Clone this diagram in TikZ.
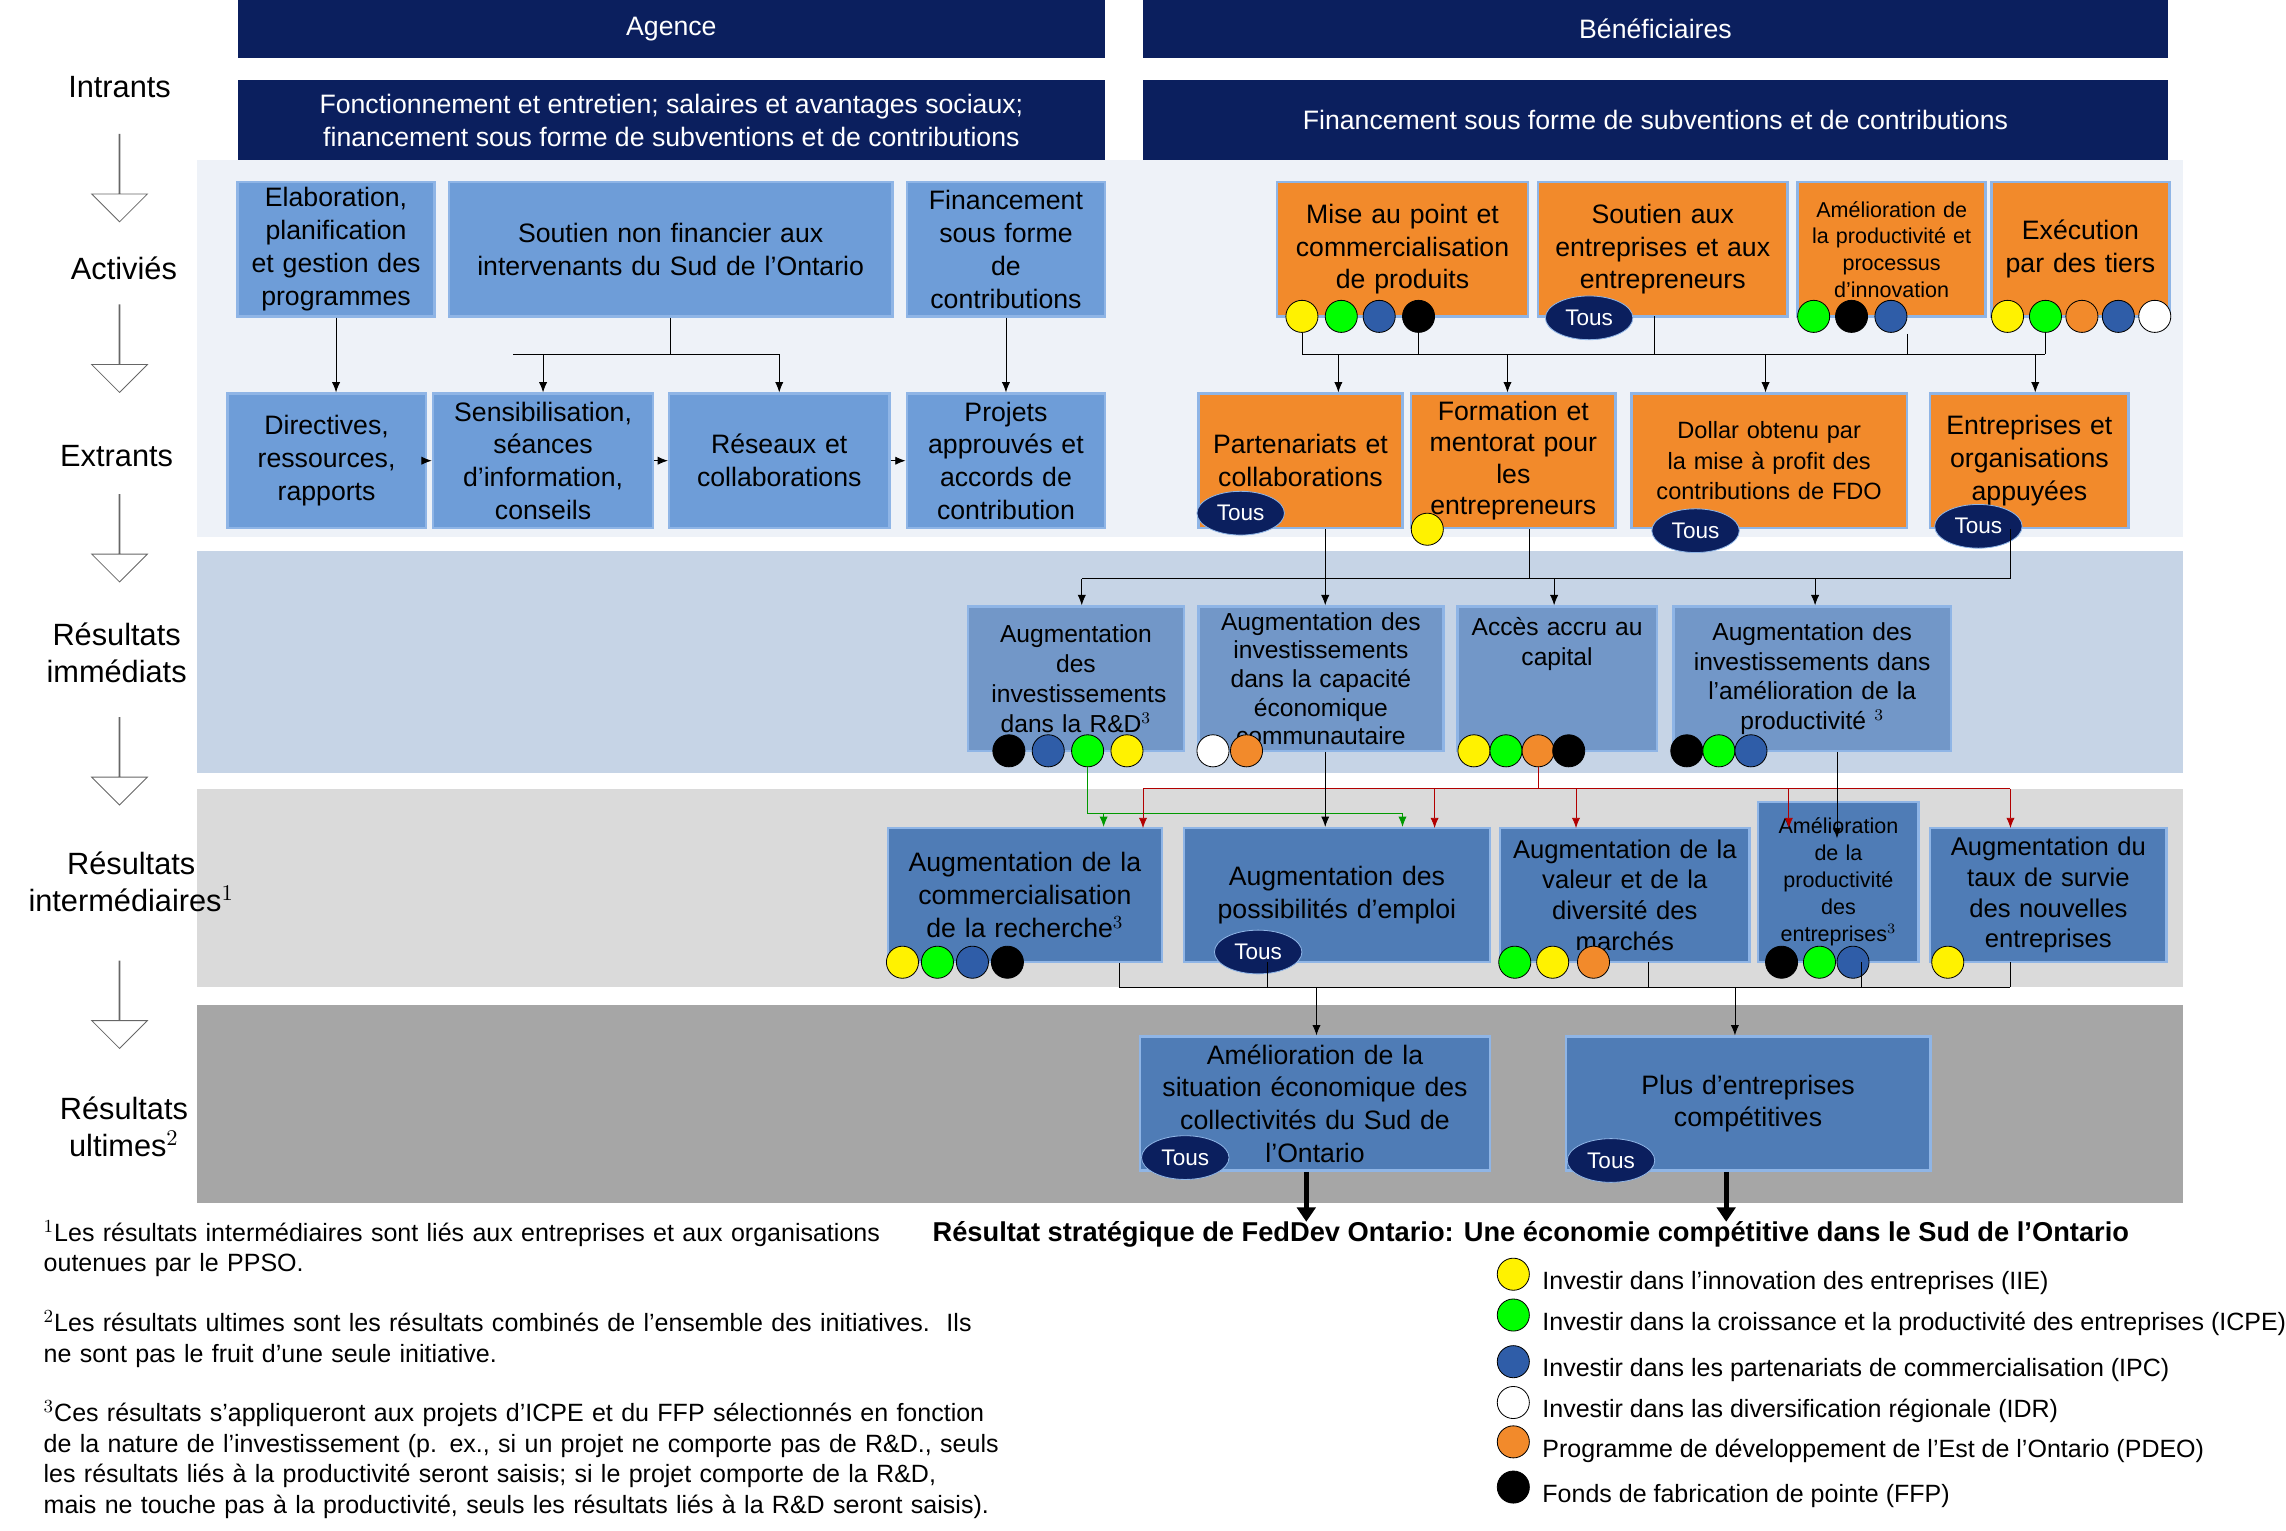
\documentclass[tikz,border=0pt]{standalone}
\usepackage{fontspec}
\setmainfont{Liberation Sans}
\usetikzlibrary{arrows.meta,shapes.geometric,shapes.arrows,positioning}
\definecolor{navy}{HTML}{0B1F5E}
\definecolor{actblue}{HTML}{6E9DD8}
\definecolor{frame}{HTML}{8FB5E6}
\definecolor{orng}{HTML}{F28A2B}
\definecolor{immblue}{HTML}{7297C8}
\definecolor{intblue}{HTML}{4F7CB6}
\definecolor{dblue}{HTML}{2F5DA8}
\definecolor{band1}{HTML}{EEF2F8}
\definecolor{band2}{HTML}{C6D4E6}
\definecolor{band3}{HTML}{DADADA}
\definecolor{band4}{HTML}{A6A6A6}
\hyphenpenalty=10000
\exhyphenpenalty=10000
\begin{document}
\begin{tikzpicture}
  [ x=0.025cm, y=-0.025cm
  , box/.style={draw=frame, line width=1.2pt, shape=rectangle, align=center, inner sep=1pt,
                font=\fontsize{13}{16}\selectfont}
  , act/.style={box, fill=actblue}
  , org/.style={box, fill=orng}
  , imm/.style={box, fill=immblue, font=\fontsize{12}{14.5}\selectfont}
  , inter/.style={box, fill=intblue, font=\fontsize{12.5}{15}\selectfont}
  , head/.style={shape=rectangle, fill=navy, text=white, align=center,
                 font=\fontsize{13}{16}\selectfont}
  , tous/.style={ellipse, fill=navy, draw=frame, text=white, inner sep=0pt,
                 minimum width=1.5cm, minimum height=0.75cm, font=\fontsize{11}{12}\selectfont}
  , dot/.style={circle, draw=black, fill=#1, minimum size=0.55cm, inner sep=0pt}
  , lbl/.style={align=center, font=\fontsize{15}{18}\selectfont}
  , hollow/.style={single arrow, draw=black!60, fill=white, shape border rotate=270,
                   minimum height=1.5cm, minimum width=0.4cm, single arrow head extend=0.47cm,
                   inner sep=0pt}
  , tip/.style={-{Latex[length=5pt,width=4pt]}}
  ]
  \useasboundingbox (0,0) rectangle (1568,1050);

  % bands
  \fill[band1] (135,110) rectangle (1497,368);
  \fill[band2] (135,378) rectangle (1497,530);
  \fill[band3] (135,541) rectangle (1497,677);
  \fill[band4] (135,689) rectangle (1497,825);

  % left labels
  \node[lbl] (intr) at (82,60)  {Intrants};
  \node[lbl] (acti) at (85,184) {Activiés};
  \node[lbl] (extr) at (80,313) {Extrants};
  \node[lbl] (rimm) at (80,448) {Résultats\\immédiats};
  \node[lbl] (rint) at (90,605) {Résultats\\intermédiaires$^{1}$};
  \node[lbl] (rult) at (85,773) {Résultats\\ultimes$^{2}$};
  \foreach \y [count=\i] in {122,239,369,522,689}
    \node[hollow] (ar\i) at (82,\y) {};

  % headers
  \node[head, minimum width=14.875cm, minimum height=1cm]   (agence) at (460.5,20) {Agence};
  \node[head, minimum width=17.575cm, minimum height=1cm]   (benef)  at (1135.5,20) {Bénéficiaires};
  \node[head, minimum width=14.875cm, minimum height=1.375cm] (inag) at (460.5,82.5)
    {Fonctionnement et entretien; salaires et avantages sociaux;\\financement sous forme de subventions et de contributions};
  \node[head, minimum width=17.575cm, minimum height=1.375cm] (inbe) at (1135.5,82.5)
    {Financement sous forme de subventions et de contributions};

  % agency activities and outputs
  \node[act, minimum width=3.375cm, minimum height=2.3cm, text width=3.2cm] (elab) at (230.5,171)
    {Elaboration, planification et gestion des programmes};
  \node[act, minimum width=7.6cm, minimum height=2.3cm, text width=7.2cm] (sout) at (460,171)
    {Soutien non financier aux\\intervenants du Sud de l’Ontario};
  \node[act, minimum width=3.4cm, minimum height=2.3cm, text width=3.2cm] (fina) at (690,171)
    {Financement\\sous forme\\de\\contributions};
  \node[act, minimum width=3.4cm, minimum height=2.3cm, text width=3.2cm] (dire) at (224,316)
    {Directives, ressources, rapports};
  \node[act, minimum width=3.775cm, minimum height=2.3cm, text width=3.6cm] (sens) at (372.5,316)
    {Sensibilisation, séances d’information, conseils};
  \node[act, minimum width=3.775cm, minimum height=2.3cm, text width=3.6cm] (rese) at (534.5,316)
    {Réseaux et collaborations};
  \node[act, minimum width=3.4cm, minimum height=2.3cm, text width=3.2cm] (proj) at (690,316)
    {Projets approuvés et accords de contribution};

  \draw[tip] (elab.south) -- (elab.south |- dire.north);
  \draw (sout.south) -- (460,243) coordinate (sbus);
  \draw[tip] (352,243) -| (sens.north);
  \draw[tip] (sbus) -| (rese.north);
  \draw (sbus) -- (352,243);
  \draw[tip] (fina.south) -- (fina.south |- proj.north);
  \draw[tip] (dire.east) -- (sens.west);
  \draw[tip] (sens.east) -- (rese.west);
  \draw[tip] (rese.east) -- (proj.west);

  % beneficiary activities
  \node[org, minimum width=4.3cm, minimum height=2.3cm, text width=4cm] (mise) at (962,171)
    {Mise au point et commercialisation de produits};
  \node[org, minimum width=4.275cm, minimum height=2.3cm, text width=4cm] (soen) at (1140.5,171)
    {Soutien aux entreprises et aux entrepreneurs};
  \node[org, minimum width=3.225cm, minimum height=2.3cm, text width=3cm,
        font=\fontsize{10.5}{13}\selectfont] (amel) at (1297.5,171)
    {Amélioration de\\la productivité et\\processus\\d’innovation};
  \node[org, minimum width=3.05cm, minimum height=2.3cm, text width=2.9cm] (exec) at (1427,171)
    {Exécution\\par des tiers};
  \node[dot=yellow] (mise1) at (893,217) {};
  \node[dot=green]  (mise2) at (920,217) {};
  \node[dot=dblue]  (mise3) at (946,217) {};
  \node[dot=black]  (mise4) at (973,217) {};
  \node[tous] (soent) at (1090,218) {Tous};
  \node[dot=green]  (amel1) at (1244,217) {};
  \node[dot=black]  (amel2) at (1270,217) {};
  \node[dot=dblue]  (amel3) at (1297,217) {};
  \node[dot=yellow] (exec1) at (1377,217) {};
  \node[dot=green]  (exec2) at (1403,217) {};
  \node[dot=orng]   (exec3) at (1428,217) {};
  \node[dot=dblue]  (exec4) at (1453,217) {};
  \node[dot=white]  (exec5) at (1478,217) {};

  % beneficiary outputs
  \node[org, minimum width=3.5cm, minimum height=2.3cm, text width=3.4cm] (part) at (892,316)
    {Partenariats et collaborations};
  \node[org, minimum width=3.5cm, minimum height=2.3cm, text width=3.3cm,
        font=\fontsize{13}{15.3}\selectfont] (form) at (1038,316)
    {Formation et\\mentorat pour\\les\\entrepreneurs};
  \node[org, minimum width=4.725cm, minimum height=2.3cm, text width=4.6cm,
        font=\fontsize{11.5}{15}\selectfont] (doll) at (1213.5,316)
    {Dollar obtenu par la mise à profit des contributions de FDO};
  \node[org, minimum width=3.4cm, minimum height=2.3cm, text width=3.3cm] (entr) at (1392,316)
    {Entreprises et organisations appuyées};
  \node[tous] (partt) at (851,352) {Tous};
  \node[dot=yellow] (form1) at (979,363) {};
  \node[tous] (dollt) at (1163,364) {Tous};
  \node[tous] (entrt) at (1357,361) {Tous};

  \coordinate (abus) at (893,243);
  \draw (mise1.south) -- (abus) -- (1403,243);
  \draw (mise4.south) -- (973,243);
  \draw (1135,217) -- (1135,243);
  \draw (1308,229) -- (1308,243);
  \draw (exec2.south) -- (1403,243);
  \draw[tip] (918,243) -- (918,0 |- part.north);
  \draw[tip] (1034,243) -- (1034,0 |- form.north);
  \draw[tip] (1211,243) -- (1211,0 |- doll.north);
  \draw[tip] (1396,243) -- (1396,0 |- entr.north);

  % immediate outcomes
  \node[imm, minimum width=3.7cm, minimum height=2.475cm, text width=2.9cm] (irnd) at (738,465.5)
    {Augmentation des investissements dans la R\&D$^{3}$};
  \node[imm, minimum width=4.2cm, minimum height=2.475cm, text width=4cm,
        font=\fontsize{12}{14}\selectfont] (icap) at (906,465.5)
    {Augmentation des investissements dans la capacité économique communautaire};
  \node[imm, minimum width=3.4cm, minimum height=2.475cm, text width=3.35cm] (iacc) at (1068,465.5)
    {Accès accru au\\capital\\[22pt]\mbox{}};
  \node[imm, minimum width=4.75cm, minimum height=2.475cm, text width=4.7cm, inner sep=0pt] (iprd) at (1243,465.5)
    {Augmentation des\\investissements dans\\l’amélioration de la\\productivité $^{3}$};
  \node[dot=black]  (irnd1) at (692,515) {};
  \node[dot=dblue]  (irnd2) at (719,515) {};
  \node[dot=green]  (irnd3) at (746,515) {};
  \node[dot=yellow] (irnd4) at (773,515) {};
  \node[dot=white]  (icap1) at (832,515) {};
  \node[dot=orng]   (icap2) at (855,515) {};
  \node[dot=yellow] (iacc1) at (1011,515) {};
  \node[dot=green]  (iacc2) at (1033,515) {};
  \node[dot=orng]   (iacc3) at (1055,515) {};
  \node[dot=black]  (iacc4) at (1076,515) {};
  \node[dot=black]  (iprd1) at (1157,515) {};
  \node[dot=green]  (iprd2) at (1179,515) {};
  \node[dot=dblue]  (iprd3) at (1201,515) {};

  \coordinate (obus) at (742,397);
  \draw (909,0 |- part.south) -- (909,397);
  \draw (1049,0 |- form.south) -- (1049,397);
  \draw (1379,0 |- entr.south) -- (1379,397);
  \draw (obus) -- (1379,397);
  \draw[tip] (obus) -- (obus |- irnd.north);
  \draw[tip] (909,397) -- (909,0 |- icap.north);
  \draw[tip] (1066,397) -- (1066,0 |- iacc.north);
  \draw[tip] (1245,397) -- (1245,0 |- iprd.north);

  % intermediate outcomes
  \node[inter, minimum width=4.7cm, minimum height=2.3cm, text width=4.6cm,
        font=\fontsize{13}{16}\selectfont] (ecom) at (703,614)
    {Augmentation de la commercialisation de la recherche$^{3}$};
  \node[inter, minimum width=5.25cm, minimum height=2.3cm, text width=5cm,
        font=\fontsize{13}{16}\selectfont] (eemp) at (917,614)
    {Augmentation des possibilités d’emploi};
  \node[inter, minimum width=4.275cm, minimum height=2.3cm, text width=4.25cm, inner sep=0pt,
        font=\fontsize{12.5}{15}\selectfont] (eval) at (1114.5,614)
    {Augmentation de la\\valeur et de la\\diversité des\\marchés};
  \node[inter, minimum width=2.75cm, minimum height=2.75cm, text width=2.2cm,
        font=\fontsize{10.5}{13.2}\selectfont] (eprd) at (1261,605)
    {Amélioration de la productivité des entreprises$^{3}$};
  \node[inter, minimum width=4.05cm, minimum height=2.3cm, text width=3.9cm] (esur) at (1405,614)
    {Augmentation du taux de survie des nouvelles entreprises};
  \node[dot=yellow] (ecom1) at (619,660) {};
  \node[dot=green]  (ecom2) at (643,660) {};
  \node[dot=dblue]  (ecom3) at (667,660) {};
  \node[dot=black]  (ecom4) at (691,660) {};
  \node[tous] (eempt) at (863,653) {Tous};
  \node[dot=green]  (eval1) at (1039,660) {};
  \node[dot=yellow] (eval2) at (1065,660) {};
  \node[dot=orng]   (eval3) at (1093,660) {};
  \node[dot=black]  (eprd1) at (1222,660) {};
  \node[dot=green]  (eprd2) at (1248,660) {};
  \node[dot=dblue]  (eprd3) at (1271,660) {};
  \node[dot=yellow] (esur1) at (1336,660) {};

  \draw[green!60!black] (irnd3.south) -- (746,558) coordinate (gbus) -- (962,558);
  \draw[tip, green!60!black] (757,558) -- (757,0 |- ecom.north);
  \draw[tip, green!60!black] (962,558) -- (962,0 |- eemp.north);
  \draw[red!70!black] (iacc3.south) -- (1055,541) coordinate (rbus);
  \draw[red!70!black] (784,541) -- (1379,541);
  \foreach \x in {784,984,1081,1227,1379}
    \draw[tip, red!70!black] (\x,541) -- (\x,568);
  \draw[tip] (909,0 |- icap.south) -- (909,0 |- eemp.north);
  \draw[tip] (1260,0 |- iprd.south) -- (1260,575);

  % ultimate outcomes
  \node[inter, minimum width=6cm, minimum height=2.3cm, text width=5.6cm,
        font=\fontsize{13}{16}\selectfont] (fsit) at (902,757)
    {Amélioration de la\\situation économique des\\collectivités du Sud de\\l’Ontario};
  \node[inter, minimum width=6.25cm, minimum height=2.3cm, text width=6cm,
        font=\fontsize{13}{16}\selectfont] (fcom) at (1199,757)
    {Plus d’entreprises compétitives};
  \node[tous] (fsitt) at (813,794) {Tous};
  \node[tous] (fcomt) at (1105,796) {Tous};

  \coordinate (ubus) at (768,677);
  \draw (768,0 |- ecom.south) -- (ubus) -- (1379,677);
  \foreach \x in {869,1131,1277,1379}
    \draw (\x,660) -- (\x,677);
  \draw[tip] (903,677) -- (903,0 |- fsit.north);
  \draw[tip] (1190,677) -- (1190,0 |- fcom.north);

  % strategic outcome
  \node[font=\bfseries\fontsize{13.3}{16}\selectfont] (strat) at (1050,847)
    {Résultat stratégique de FedDev Ontario: Une économie compétitive dans le Sud de l’Ontario};
  \draw[line width=2.5pt, -{Triangle[length=7pt,width=9pt]}] (896,0 |- fsit.south) -- (896,838);
  \draw[line width=2.5pt, -{Triangle[length=7pt,width=9pt]}] (1184,0 |- fcom.south) -- (1184,838);

  % legend
  \foreach \y/\c/\t [count=\i] in {
      874/yellow/{Investir dans l’innovation des entreprises (IIE)},
      902/green/{Investir dans la croissance et la productivité des entreprises (ICPE)},
      934/dblue/{Investir dans les partenariats de commercialisation (IPC)},
      962/white/{Investir dans las diversification régionale  (IDR)},
      989/orng/{Programme de développement de l’Est de l’Ontario (PDEO)},
      1020/black/{Fonds de fabrication de pointe (FFP)}} {
    \node[dot=\c] (leg\i) at (1038,\y) {};
    \node[anchor=west, font=\fontsize{12.2}{14}\selectfont] (legt\i) at (1053,\y+6) {\t};
  }

  % footnotes
  \node[anchor=north west, text width=17.5cm, align=left, font=\fontsize{12.2}{15}\selectfont]
    (notes) at (25,832)
    {$^{1}$Les résultats intermédiaires sont liés aux entreprises et aux organisations\\outenues par le PPSO.\\[14pt]
     $^{2}$Les résultats ultimes sont les résultats combinés de l’ensemble des initiatives.\ \ Ils\\ne sont pas le fruit d’une seule initiative.\\[14pt]
     $^{3}$Ces résultats s’appliqueront aux projets d’ICPE et du FFP sélectionnés en fonction\\de la nature de l’investissement (p. ex., si un projet ne comporte pas de R\&D., seuls\\les résultats liés à la productivité seront saisis; si le projet comporte de la R\&D,\\mais ne touche pas à la productivité, seuls les résultats liés à la R\&D seront saisis).};
\end{tikzpicture}
\end{document}
